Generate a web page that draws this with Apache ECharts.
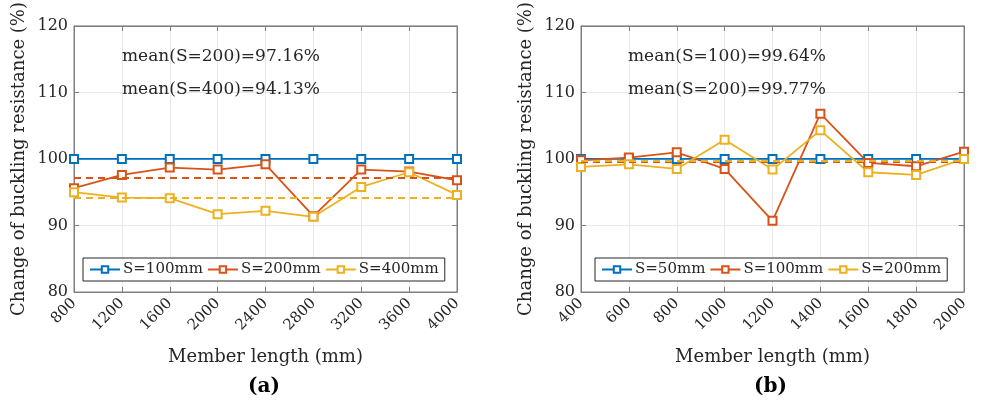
<!DOCTYPE html>
<html>
<head>
<meta charset="utf-8">
<script src="https://cdn.jsdelivr.net/npm/echarts@6/dist/echarts.min.js"></script>
<style>html,body{margin:0;padding:0;background:#fff}#main{width:988px;height:406px}</style>
</head>
<body>
<div id="main"></div>
<script>
// panel (a)
var lengthA = [800, 1200, 1600, 2000, 2400, 2800, 3200, 3600, 4000];
var s100A = [100, 100, 100, 100, 100, 100, 100, 100, 100];
var s200A = [95.6, 97.6, 98.7, 98.4, 99.2, 91.4, 98.4, 98.1, 96.8];
var s400A = [95.0, 94.2, 94.1, 91.7, 92.2, 91.3, 95.8, 98.0, 94.6];
var meanA = [97.16, 94.13];

// panel (b)
var lengthB = [400, 600, 800, 1000, 1200, 1400, 1600, 1800, 2000];
var s50B = [100, 100, 100, 100, 100, 100, 100, 100, 100];
var s100B = [99.8, 100.2, 101.0, 98.5, 90.7, 106.8, 99.4, 98.9, 101.1];
var s200B = [98.8, 99.2, 98.5, 102.9, 98.4, 104.3, 98.0, 97.6, 100.0];
var meanB = [99.64, 99.77];

var blue = '#0072BD', red = '#D95319', yellow = '#EDB120';
var font = 'DejaVu Serif';

var myChart = echarts.init(document.getElementById('main'));

function pair(xs, ys) {
    return xs.map(function (x, i) { return [x, ys[i]]; });
}

function lineSeries(name, idx, color, xs, ys, mean) {
    var s = {
        name: name,
        type: 'line',
        xAxisIndex: idx * 2,
        yAxisIndex: idx * 2,
        symbol: 'emptyRect',
        symbolSize: 8,
        color: color,
        lineStyle: { width: 1.8 },
        itemStyle: { borderWidth: 1.5 },
        data: pair(xs, ys),
        z: 3
    };
    if (mean != null) {
        s.markLine = {
            silent: true,
            symbol: 'none',
            label: { show: false },
            lineStyle: { color: color, type: [7, 5], width: 1.8 },
            data: [{ yAxis: mean }]
        };
    }
    return s;
}

function xAxisPair(gi, xs, step) {
    return [{
        gridIndex: gi,
        type: 'value',
        min: xs[0], max: xs[xs.length - 1], interval: step,
        name: 'Member length (mm)',
        nameLocation: 'middle',
        nameGap: 56,
        nameTextStyle: { fontFamily: font, fontSize: 18, color: '#262626' },
        axisLine: { show: true, lineStyle: { color: '#7f7f7f', width: 1 } },
        axisTick: { show: true, inside: true, length: 5, lineStyle: { color: '#7f7f7f' } },
        axisLabel: { rotate: 45, fontFamily: font, fontSize: 15, color: '#262626', margin: 9,
            formatter: function (v) { return String(v); } },
        splitLine: { show: true, lineStyle: { color: '#e8e8e8', width: 1 } }
    }, {
        gridIndex: gi,
        type: 'value',
        position: 'top',
        min: xs[0], max: xs[xs.length - 1], interval: step,
        axisLine: { show: true, lineStyle: { color: '#7f7f7f', width: 1 } },
        axisTick: { show: true, inside: true, length: 5, lineStyle: { color: '#7f7f7f' } },
        axisLabel: { show: false },
        splitLine: { show: false }
    }];
}

function yAxisPair(gi) {
    return [{
        gridIndex: gi,
        type: 'value',
        min: 80, max: 120, interval: 10,
        name: 'Change of buckling resistance (%)',
        nameLocation: 'middle',
        nameGap: 46,
        nameTextStyle: { fontFamily: font, fontSize: 18, color: '#262626' },
        axisLine: { show: true, lineStyle: { color: '#7f7f7f', width: 1 } },
        axisTick: { show: true, inside: true, length: 5, lineStyle: { color: '#7f7f7f' } },
        axisLabel: { fontFamily: font, fontSize: 16, color: '#262626', margin: 6 },
        splitLine: { show: true, lineStyle: { color: '#e8e8e8', width: 1 } }
    }, {
        gridIndex: gi,
        type: 'value',
        position: 'right',
        min: 80, max: 120, interval: 10,
        axisLine: { show: true, lineStyle: { color: '#7f7f7f', width: 1 } },
        axisTick: { show: true, inside: true, length: 5, lineStyle: { color: '#7f7f7f' } },
        axisLabel: { show: false },
        splitLine: { show: false }
    }];
}

function legendBox(left, names) {
    return {
        data: names,
        left: left,
        top: 258,
        orient: 'horizontal',
        padding: [4, 6],
        itemGap: 4,
        itemWidth: 30,
        itemHeight: 8,
        borderColor: '#262626',
        borderWidth: 1,
        backgroundColor: '#fff',
        formatter: function (n) { return n.trim(); },
        textStyle: { fontFamily: font, fontSize: 15, color: '#262626', padding: [0, 0, 0, -2] }
    };
}

function note(x, y, txt) {
    return { type: 'text', left: x, top: y, z: 10,
        style: { text: txt, font: '17px "' + font + '"', fill: '#262626' } };
}

var option = {
    backgroundColor: '#fff',
    animation: false,
    grid: [
        { left: 74, top: 24, width: 383, height: 268, show: true, borderColor: '#7f7f7f', backgroundColor: '#fff' },
        { left: 581, top: 24, width: 383, height: 268, show: true, borderColor: '#7f7f7f', backgroundColor: '#fff' }
    ],
    xAxis: xAxisPair(0, lengthA, 400).concat(xAxisPair(1, lengthB, 200)),
    yAxis: yAxisPair(0).concat(yAxisPair(1)),
    legend: [
        legendBox(83, ['S=100mm', 'S=200mm', 'S=400mm']),
        legendBox(595, ['S=50mm', 'S=100mm ', 'S=200mm '])
    ],
    graphic: [
        note(122, 48, 'mean(S=200)=97.16%'),
        note(122, 81, 'mean(S=400)=94.13%'),
        note(628, 48, 'mean(S=100)=99.64%'),
        note(628, 81, 'mean(S=200)=99.77%'),
        { type: 'text', left: 248, top: 377, style: { text: '(a)', font: 'bold 20px "' + font + '"', fill: '#000' } },
        { type: 'text', left: 754, top: 377, style: { text: '(b)', font: 'bold 20px "' + font + '"', fill: '#000' } }
    ],
    series: [
        lineSeries('S=100mm', 0, blue, lengthA, s100A, null),
        lineSeries('S=200mm', 0, red, lengthA, s200A, meanA[0]),
        lineSeries('S=400mm', 0, yellow, lengthA, s400A, meanA[1]),
        lineSeries('S=50mm', 1, blue, lengthB, s50B, null),
        lineSeries('S=100mm ', 1, red, lengthB, s100B, meanB[0]),
        lineSeries('S=200mm ', 1, yellow, lengthB, s200B, meanB[1])
    ]
};

myChart.setOption(option);
</script>
</body>
</html>
